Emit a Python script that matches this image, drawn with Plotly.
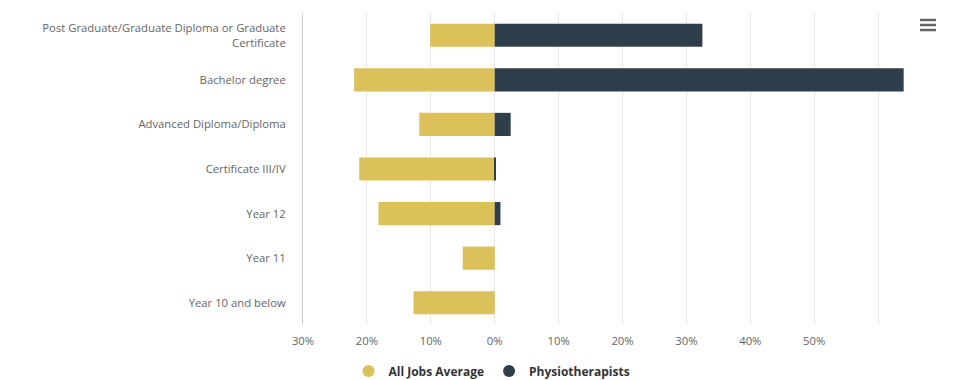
import plotly.graph_objects as go

categories = [
    "Post Graduate/Graduate Diploma or Graduate<br>Certificate",
    "Bachelor degree",
    "Advanced Diploma/Diploma",
    "Certificate III/IV",
    "Year 12",
    "Year 11",
    "Year 10 and below",
]
all_jobs = [10.1, 22.0, 11.8, 21.2, 18.2, 5.0, 12.7]
physio = [32.5, 64.0, 2.5, 0.2, 0.9, 0.0, 0.0]

tick_vals = [-30, -20, -10, 0, 10, 20, 30, 40, 50, 60, 70]
tick_text = ["30%", "20%", "10%", "0%", "10%", "20%", "30%", "40%", "50%", "", ""]

YELLOW = "#DCC15B"
DARK = "#2E3E4B"

L, R, T, B = 303, 942, 13, 325
W, H = 961, 380

fig = go.Figure()
fig.add_trace(go.Bar(
    y=categories, x=[-v for v in all_jobs], orientation="h",
    name="All Jobs Average", marker=dict(color=YELLOW, line=dict(width=0)),
    customdata=all_jobs, hovertemplate="%{y}: %{customdata}%<extra></extra>",
    showlegend=False,
))
fig.add_trace(go.Bar(
    y=categories, x=physio, orientation="h",
    name="Physiotherapists", marker=dict(color=DARK, line=dict(width=0)),
    hovertemplate="%{y}: %{x}%<extra></extra>",
    showlegend=False,
))
# legend entries with circle symbols
for name, col in (("<b>All Jobs Average</b>", YELLOW), ("<b>Physiotherapists</b>", DARK)):
    fig.add_trace(go.Scatter(
        x=[None], y=[None], mode="markers", name=name,
        marker=dict(color=col, size=13, symbol="circle"),
        showlegend=True, hoverinfo="skip",
    ))

fig.update_layout(
    width=W, height=H,
    margin=dict(l=L, r=W - R, t=T, b=H - B, autoexpand=False),
    barmode="relative",
    bargap=0.48,
    plot_bgcolor="white", paper_bgcolor="white",
    font=dict(family="Open Sans, DejaVu Sans, sans-serif", size=11.3, color="#666666"),
    showlegend=True,
    legend=dict(
        orientation="h",
        x=(492 - L) / (R - L), xanchor="center",
        y=(B - 371) / (B - T), yanchor="middle",
        font=dict(size=12, color="#333333", family="Open Sans, DejaVu Sans, sans-serif"),
        itemsizing="constant", traceorder="normal", itemwidth=30,
        bgcolor="rgba(0,0,0,0)",
    ),
    xaxis=dict(
        range=[-30, 70], tickvals=tick_vals, ticktext=tick_text,
        showgrid=True, gridcolor="#e6e6e6", gridwidth=1,
        zeroline=False, showline=False, ticks="", ticklabelstandoff=8,
        fixedrange=True, automargin=False,
    ),
    yaxis=dict(
        categoryorder="array", categoryarray=categories, autorange="reversed",
        showgrid=False, zeroline=False, showline=True, linecolor="#d0d0d8", linewidth=1,
        ticks="", ticklabelstandoff=14, fixedrange=True, automargin=False,
    ),
)

# export menu icon (three lines)
for dy in (0, 5, 10):
    yy = (B - 20 - dy) / (B - T)
    fig.add_shape(type="line", xref="paper", yref="paper",
                  x0=(920 - L) / (R - L), x1=(936 - L) / (R - L),
                  y0=yy, y1=yy,
                  line=dict(color="#666666", width=2.5))

fig.write_html(
    "out.html",
    config={"displayModeBar": False},
    post_script="document.body.style.margin='0';document.body.style.overflow='hidden';",
)
